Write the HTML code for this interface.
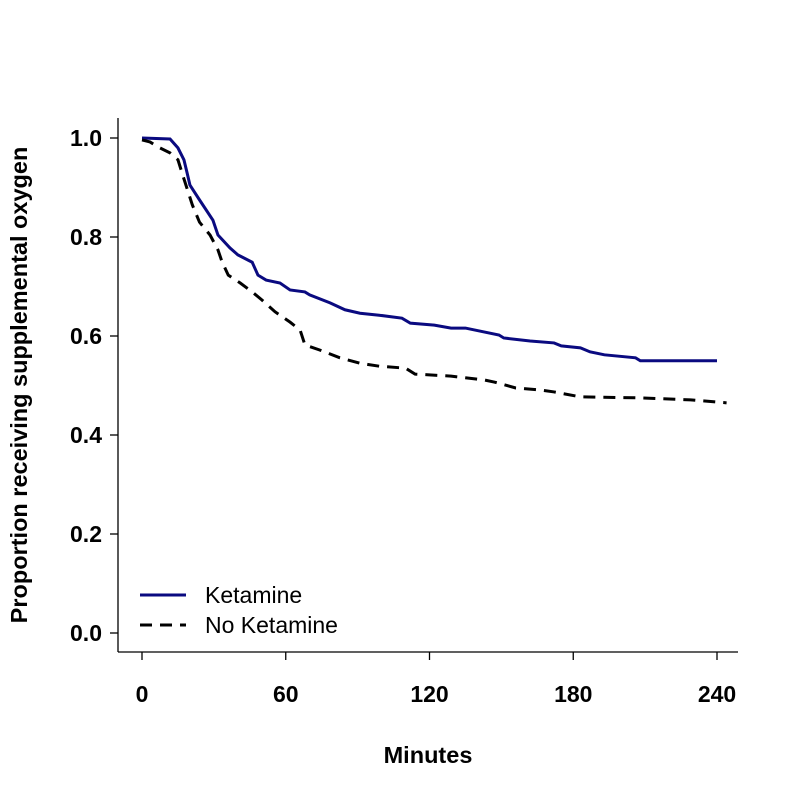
<!DOCTYPE html>
<html><head><meta charset="utf-8"><style>body{margin:0;background:#fff}svg{display:block;font-family:"Liberation Sans",Arial,sans-serif}</style></head>
<body>
<svg width="800" height="800" viewBox="0 0 800 800">
<g id="axes"></g><g id="series"></g><g id="legend"></g>
</svg>
<script>
const xTicks=[0,60,120,180,240];
const yTicks=[0.0,0.2,0.4,0.6,0.8,1.0];
const ketT=[0,11.7,15,17.5,18.8,20,24,29.6,31.7,36.7,40,46,48.4,51.8,57.6,61.8,68,70,78.5,84.7,91,99,108.5,112,122,129,135,141,149,151,162,172,175,183,187,193,206,208,240];
const ketP=[1.0,0.998,0.98,0.956,0.93,0.905,0.875,0.834,0.804,0.778,0.764,0.749,0.723,0.713,0.707,0.693,0.689,0.683,0.667,0.653,0.646,0.642,0.636,0.626,0.622,0.616,0.616,0.61,0.602,0.596,0.59,0.586,0.58,0.576,0.568,0.562,0.556,0.55,0.55];
const noT=[0,3.3,7.5,11.7,15,17,19,21,24,28.4,31.7,33.4,36,41,46,50,55.5,61.8,66,68,74,82.6,91,99,110,114,129,143,147,156,166,172,183,208,229,244];
const noP=[0.996,0.992,0.98,0.97,0.956,0.925,0.895,0.865,0.83,0.804,0.774,0.75,0.723,0.707,0.689,0.673,0.649,0.628,0.612,0.582,0.572,0.556,0.545,0.539,0.535,0.523,0.519,0.511,0.507,0.495,0.491,0.487,0.477,0.475,0.471,0.465];
const NS="http://www.w3.org/2000/svg";
const X=t=>142+t*575/240, Y=p=>633-p*495;
function mk(tag,attrs,parent,text){const e=document.createElementNS(NS,tag);for(const k in attrs)e.setAttribute(k,attrs[k]);if(text!==undefined)e.textContent=text;parent.appendChild(e);return e;}
const ax=document.getElementById('axes');
let e=mk('line',{x1:118,y1:118,x2:118,y2:652,stroke:'#000','stroke-width':1.3},ax);


e=mk('line',{x1:118,y1:652,x2:738,y2:652,stroke:'#000','stroke-width':1.3},ax);


xTicks.forEach(t=>{mk('line',{x1:X(t),y1:652,x2:X(t),y2:660,stroke:'#000','stroke-width':1.3},ax);
 e=mk('text',{x:X(t),y:702,'text-anchor':'middle','font-size':23,'font-weight':'bold'},ax,String(t));
 
 });
yTicks.forEach(p=>{mk('line',{x1:110,y1:Y(p),x2:118,y2:Y(p),stroke:'#000','stroke-width':1.3},ax);
 e=mk('text',{x:102,y:Y(p)+8,'text-anchor':'end','font-size':23,'font-weight':'bold'},ax,p.toFixed(1));
 
 });
e=mk('text',{x:428,y:763,'text-anchor':'middle','font-size':23.5,'font-weight':'bold'},ax,'Minutes');


e=mk('text',{x:0,y:0,'text-anchor':'middle','font-size':23.5,'font-weight':'bold',transform:'translate(27,385) rotate(-90)'},ax,'Proportion receiving supplemental oxygen');


const sg=document.getElementById('series');
e=mk('polyline',{points:ketT.map((t,i)=>X(t)+','+Y(ketP[i])).join(' '),fill:'none',stroke:'#0a0a80','stroke-width':3},sg);


e=mk('polyline',{points:noT.map((t,i)=>X(t)+','+Y(noP[i])).join(' '),fill:'none',stroke:'#000','stroke-width':3,'stroke-dasharray':'12,8'},sg);


const lg=document.getElementById('legend');
e=mk('g',{},lg);
mk('line',{x1:140,y1:595,x2:186,y2:595,stroke:'#0a0a80','stroke-width':3},e);
mk('text',{x:205,y:603,'font-size':23},e,'Ketamine');
e=mk('g',{},lg);
mk('line',{x1:140,y1:625,x2:186,y2:625,stroke:'#000','stroke-width':3,'stroke-dasharray':'12,8'},e);
mk('text',{x:205,y:633,'font-size':23},e,'No Ketamine');
</script>
</body></html>
